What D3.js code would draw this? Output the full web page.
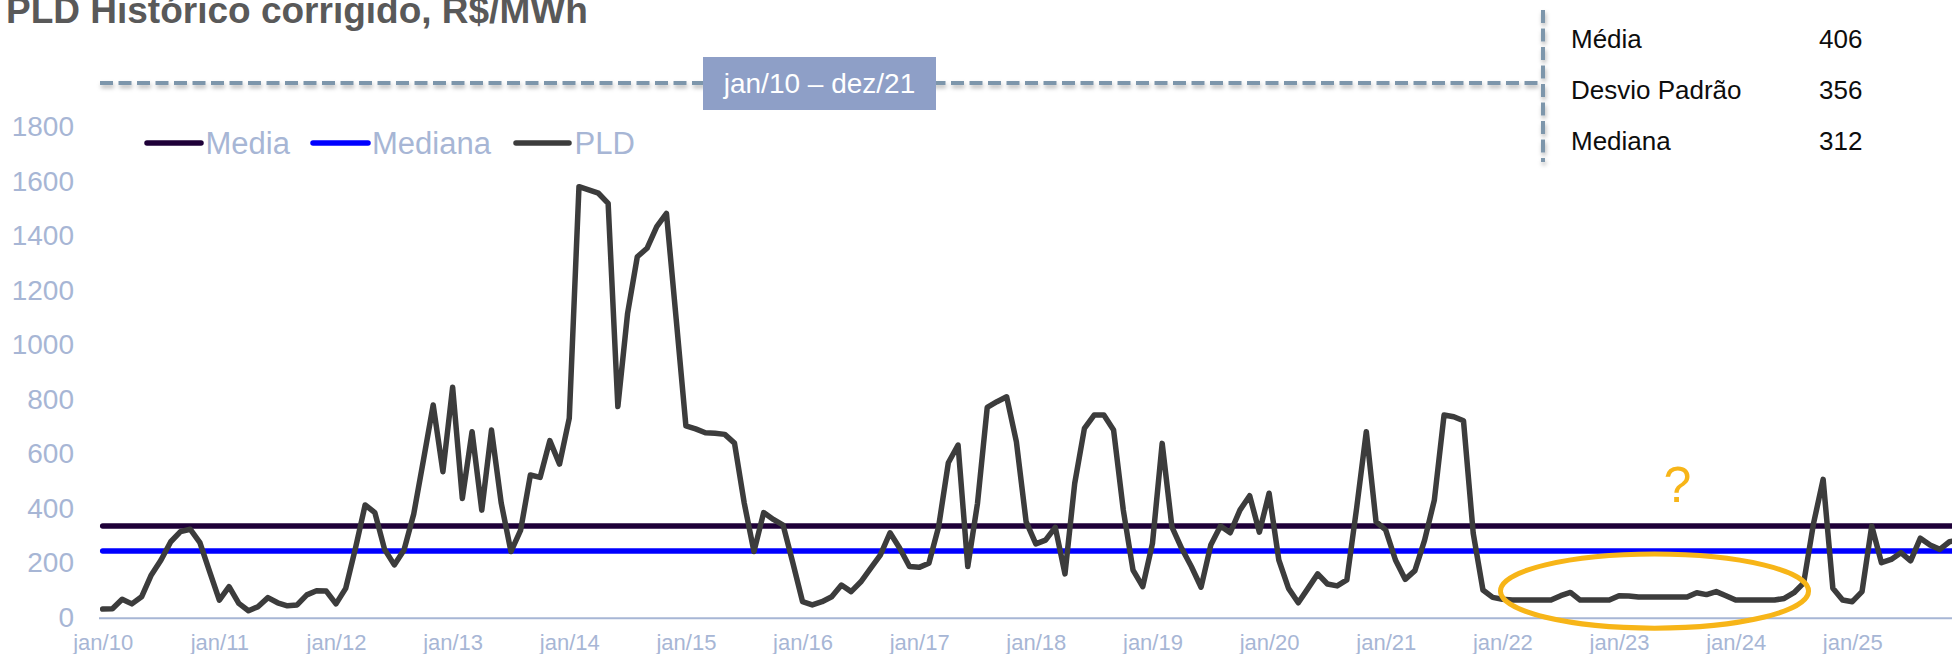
<!DOCTYPE html>
<html>
<head>
<meta charset="utf-8">
<script src="https://cdn.jsdelivr.net/npm/d3@7"></script>
<style>
  body { margin: 0; background: #ffffff; }
  svg { display: block; font-family: "Liberation Sans", Arial, sans-serif; }
</style>
</head>
<body>
<svg id="chart" width="1952" height="654"></svg>
<script>
// ---- data -------------------------------------------------------------
const chartTitle = "PLD Histórico corrigido, R$/MWh";
const tickLabels = ["jan/10","jan/11","jan/12","jan/13","jan/14","jan/15","jan/16","jan/17",
                    "jan/18","jan/19","jan/20","jan/21","jan/22","jan/23","jan/24","jan/25"];
const yTicks = [0, 200, 400, 600, 800, 1000, 1200, 1400, 1600, 1800];
const seriesNames = ["Media", "Mediana", "PLD"];

// monthly PLD, R$/MWh, jan/10 onwards (one row per year)
const pld = [
   31,  32,  67,  50,  76, 156, 211, 278, 315, 324, 275, 168,   // 2010
   64, 113,  52,  25,  40,  73,  54,  43,  46,  83,  98,  97,   // 2011
   50, 107, 254, 413, 385, 250, 193, 248, 380, 578, 780, 535,   // 2012
  845, 437, 682, 394, 688, 420, 242, 321, 523, 514, 649, 563,   // 2013
  731,1581,1569,1557,1520, 774,1116,1324,1355,1434,1483,1095,   // 2014
  703, 692, 678, 676, 672, 640, 420, 242, 385, 360, 339, 201,   // 2015
   58,  46,  58,  76, 119,  95, 131, 180, 229, 311, 254, 187,   // 2016
  184, 199, 333, 568, 633, 187, 419, 771, 792, 810, 645, 352,   // 2017
  270, 284, 331, 160, 492, 694, 743, 743, 688, 394, 174, 113,   // 2018
  272, 639, 333, 254, 187, 111, 266, 336, 311, 394, 447, 313,   // 2019
  456, 211, 107,  54, 107, 160, 123, 116, 138, 400, 682, 352,   // 2020
  321, 211, 140, 172, 284, 431, 743, 737, 722, 309, 101,  74,   // 2021
   67,  64,  64,  64,  64,  64,  80,  92,  64,  64,  64,  64,   // 2022
   80,  79,  75,  75,  75,  75,  75,  75,  91,  84,  95,  80,   // 2023
   64,  64,  64,  64,  64,  70,  91, 127, 343, 507, 107,  64,   // 2024
   58,  95, 336, 201, 213, 238, 208, 291, 266, 250, 278, 285    // 2025
];
const mediaValue = 336;
const medianaValue = 244;

// summary box for the jan/10 – dez/21 window
const periodLabel = "jan/10 – dez/21";
const statLabels = ["Média", "Desvio Padrão", "Mediana"];
const statValues = [406, 356, 312];

// ---- layout -----------------------------------------------------------
const W = 1952, H = 654;
const svg = d3.select("#chart");
const colors = { media: "#1e0038", mediana: "#0000ff", pld: "#3c3c3c" };
const axisColor = "#a7b6d5";
const accent = "#f7b518";
const bracketColor = "#7d96ab";
const fontStack = "Liberation Sans, Arial, sans-serif";

const x = d3.scaleLinear().domain([0, 180]).range([102.7, 1852.3]);
const y = d3.scaleLinear().domain([0, 1800]).range([617.5, 127]);

const defs = svg.append("defs");
const shadow = defs.append("filter").attr("id", "soft-shadow")
  .attr("x", "-5%").attr("y", "-50%").attr("width", "110%").attr("height", "200%");
shadow.append("feDropShadow").attr("dx", 1).attr("dy", 3).attr("stdDeviation", 2)
  .attr("flood-color", "#000").attr("flood-opacity", 0.28);

// title (sits partly above the top edge)
svg.append("text").attr("x", 6).attr("y", 23)
  .attr("font-size", 37).attr("font-weight", "bold").attr("fill", "#595959")
  .text(chartTitle);

// y axis labels
const yAxis = svg.append("g").attr("transform", "translate(80,0)")
  .call(d3.axisLeft(y).tickValues(yTicks).tickSize(0).tickPadding(6).tickFormat(d3.format("d")));
yAxis.select(".domain").remove();
yAxis.selectAll("text").attr("font-size", 28).attr("fill", axisColor).attr("font-family", fontStack);

// x axis labels
const xAxis = svg.append("g").attr("transform", `translate(0,${y(0)})`)
  .call(d3.axisBottom(x).tickValues(d3.range(0, 181, 12)).tickSize(0).tickPadding(16.5)
    .tickFormat(d => tickLabels[d / 12]));
xAxis.select(".domain").remove();
xAxis.selectAll("text").attr("font-size", 22).attr("fill", axisColor).attr("font-family", fontStack);

// baseline
svg.append("line").attr("x1", 99).attr("x2", W)
  .attr("y1", y(0) + 0.8).attr("y2", y(0) + 0.8)
  .attr("stroke", axisColor).attr("stroke-width", 2);

// reference lines
const flat = d3.line().x(d => x(d[0])).y(d => y(d[1]));
const lastIdx = pld.length - 1;
svg.append("path").datum([[0, mediaValue], [lastIdx, mediaValue]])
  .attr("d", flat).attr("fill", "none").attr("stroke", colors.media)
  .attr("stroke-width", 5.5).attr("stroke-linecap", "round");
svg.append("path").datum([[0, medianaValue], [lastIdx, medianaValue]])
  .attr("d", flat).attr("fill", "none").attr("stroke", colors.mediana)
  .attr("stroke-width", 5.5).attr("stroke-linecap", "round");

// PLD series
const pldLine = d3.line().x((d, i) => x(i)).y(d => y(d));
svg.append("path").datum(pld)
  .attr("d", pldLine).attr("fill", "none").attr("stroke", colors.pld)
  .attr("stroke-width", 5.5).attr("stroke-linejoin", "round").attr("stroke-linecap", "round");

// legend
const legendItems = [
  { name: seriesNames[0], color: colors.media,   x1: 147, x2: 201, tx: 205.5 },
  { name: seriesNames[1], color: colors.mediana, x1: 313, x2: 368, tx: 372 },
  { name: seriesNames[2], color: colors.pld,     x1: 516, x2: 569, tx: 574.5 }
];
const legend = svg.append("g");
legendItems.forEach(it => {
  legend.append("line").attr("x1", it.x1).attr("x2", it.x2).attr("y1", 143).attr("y2", 143)
    .attr("stroke", it.color).attr("stroke-width", 5.5).attr("stroke-linecap", "round");
  legend.append("text").attr("x", it.tx).attr("y", 143).attr("dy", "0.36em")
    .attr("font-size", 31).attr("fill", axisColor).text(it.name);
});

// period bracket across the top
const bracket = svg.append("g").attr("filter", "url(#soft-shadow)");
bracket.append("line").attr("x1", 100).attr("x2", 1540).attr("y1", 83).attr("y2", 83)
  .attr("stroke", bracketColor).attr("stroke-width", 4).attr("stroke-dasharray", "13,5.5");
bracket.append("line").attr("x1", 1543).attr("x2", 1543).attr("y1", 10).attr("y2", 162)
  .attr("stroke", bracketColor).attr("stroke-width", 4).attr("stroke-dasharray", "13,5.5");

svg.append("rect").attr("x", 703).attr("y", 57).attr("width", 233).attr("height", 53)
  .attr("fill", "#8e9fc7");
svg.append("text").attr("x", 819.5).attr("y", 83.5).attr("dy", "0.35em")
  .attr("text-anchor", "middle").attr("font-size", 28).attr("fill", "#ffffff")
  .text(periodLabel);

// summary statistics
const statY = [39, 90, 141];
statLabels.forEach((lab, i) => {
  svg.append("text").attr("x", 1571).attr("y", statY[i]).attr("dy", "0.35em")
    .attr("font-size", 26).attr("fill", "#0d0d0d").text(lab);
  svg.append("text").attr("x", 1819).attr("y", statY[i]).attr("dy", "0.35em")
    .attr("font-size", 26).attr("fill", "#0d0d0d").text(statValues[i]);
});

// highlight of the low-price stretch
const ring = { m0: 143.8, m1: 175.5, v0: -39, v1: 233 };
svg.append("ellipse")
  .attr("cx", (x(ring.m0) + x(ring.m1)) / 2).attr("cy", (y(ring.v0) + y(ring.v1)) / 2)
  .attr("rx", (x(ring.m1) - x(ring.m0)) / 2).attr("ry", (y(ring.v0) - y(ring.v1)) / 2)
  .attr("fill", "none").attr("stroke", accent).attr("stroke-width", 5);
svg.append("text").attr("x", x(162)).attr("y", y(425))
  .attr("text-anchor", "middle").attr("font-size", 50).attr("fill", accent).text("?");
</script>
</body>
</html>
